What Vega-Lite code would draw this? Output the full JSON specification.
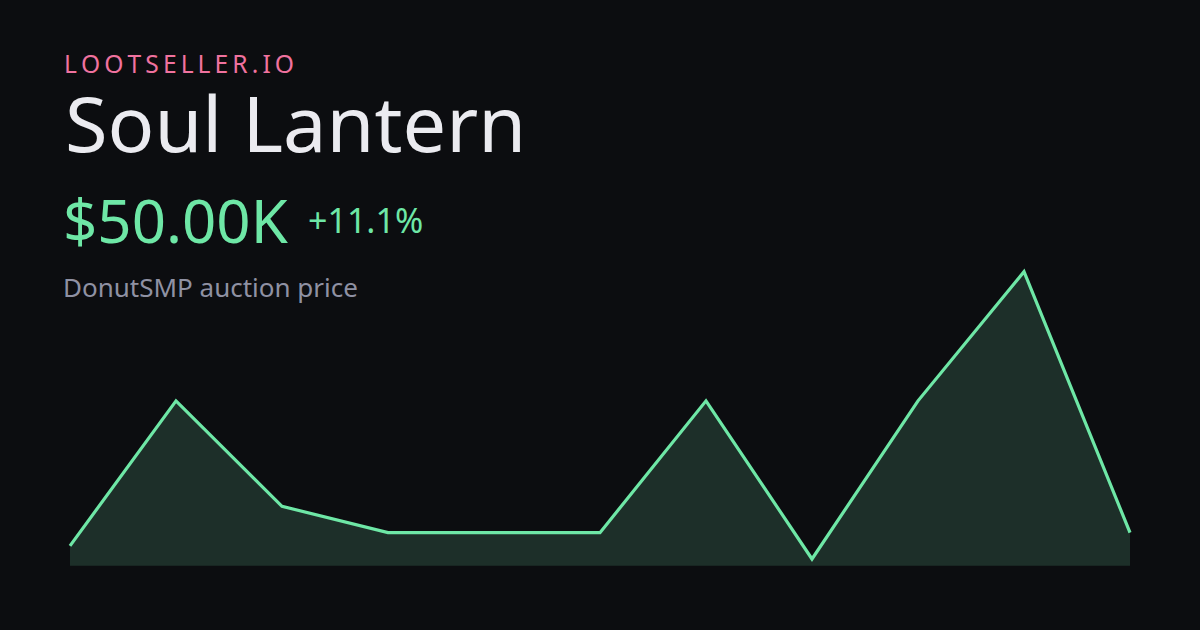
{
  "$schema": "https://vega.github.io/schema/vega-lite/v6.json",
  "width": 1200,
  "height": 630,
  "autosize": {"type": "fit", "contains": "padding"},
  "padding": 0,
  "background": "#0c0d10",
  "config": {"view": {"stroke": null}},
  "data": {
    "values": [
      {"i": 0, "price": 45},
      {"i": 1, "price": 100},
      {"i": 2, "price": 60},
      {"i": 3, "price": 50},
      {"i": 4, "price": 50},
      {"i": 5, "price": 50},
      {"i": 6, "price": 100},
      {"i": 7, "price": 40},
      {"i": 8, "price": 100},
      {"i": 9, "price": 149},
      {"i": 10, "price": 50}
    ]
  },
  "layer": [
    {
      "mark": {"type": "area", "color": "#1d2f29", "opacity": 1},
      "encoding": {
        "x": {"field": "i", "type": "quantitative", "axis": null, "scale": {"domain": [-0.6604, 10.6604], "nice": false, "zero": false}},
        "y": {"field": "price", "type": "quantitative", "axis": null, "scale": {"domain": [13.07, 252.07], "nice": false, "zero": false}},
        "y2": {"datum": 37.46}
      }
    },
    {
      "mark": {"type": "line", "color": "#6ee7a6", "strokeWidth": 3.2},
      "encoding": {
        "x": {"field": "i", "type": "quantitative"},
        "y": {"field": "price", "type": "quantitative"}
      }
    },
    {
      "data": {"values": [{"t": "L\u2009O\u2009O\u2009T\u2009S\u2009E\u2009L\u2009L\u2009E\u2009R\u2009.\u2009I\u2009O"}]},
      "mark": {"type": "text", "align": "left", "baseline": "alphabetic", "font": "Noto Sans", "fontSize": 24.6, "color": "#f0729f", "x": 64, "y": 73},
      "encoding": {"text": {"field": "t"}}
    },
    {
      "data": {"values": [{"t": "Soul Lantern"}]},
      "mark": {"type": "text", "align": "left", "baseline": "alphabetic", "font": "Noto Sans", "fontSize": 77.5, "color": "#ebebf0", "x": 65, "y": 152},
      "encoding": {"text": {"field": "t"}}
    },
    {
      "data": {"values": [{"t": "$50.00K"}]},
      "mark": {"type": "text", "align": "left", "baseline": "alphabetic", "font": "Noto Sans", "fontSize": 60, "color": "#6ee7a6", "x": 63, "y": 243},
      "encoding": {"text": {"field": "t"}}
    },
    {
      "data": {"values": [{"t": "+11.1%"}]},
      "mark": {"type": "text", "align": "left", "baseline": "alphabetic", "font": "Noto Sans", "fontSize": 34, "color": "#6ee7a6", "x": 308, "y": 233},
      "encoding": {"text": {"field": "t"}}
    },
    {
      "data": {"values": [{"t": "DonutSMP auction price"}]},
      "mark": {"type": "text", "align": "left", "baseline": "alphabetic", "font": "Noto Sans", "fontSize": 26, "color": "#8f91a3", "x": 63, "y": 297},
      "encoding": {"text": {"field": "t"}}
    }
  ]
}
